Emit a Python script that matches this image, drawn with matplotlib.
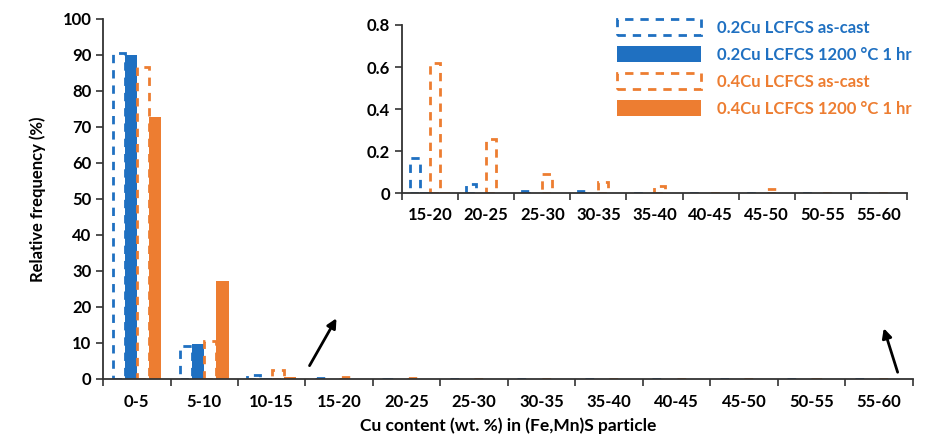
import numpy as np
import matplotlib.pyplot as plt
from matplotlib.ticker import FixedLocator, NullFormatter

plt.rcParams['font.family'] = ['Lato', 'DejaVu Sans']
plt.rcParams['font.weight'] = 'bold'

# size ranges of Cu content (wt. %)
ranges = ['0-5', '5-10', '10-15', '15-20', '20-25', '25-30',
          '30-35', '35-40', '40-45', '45-50', '50-55', '55-60']

# relative frequency (%)
cu02_cast = [90.4, 9.0, 1.1, 0.165, 0.043, 0.01, 0.01, 0, 0, 0, 0, 0]
cu02_ht = [89.9, 9.8, 0.35, 0.005, 0.002, 0, 0, 0, 0, 0, 0, 0]
cu04_cast = [86.5, 10.5, 2.6, 0.62, 0.257, 0.09, 0.055, 0.035, 0, 0.02, 0, 0]
cu04_ht = [72.6, 27.1, 0.6, 0.004, 0.002, 0, 0, 0, 0, 0, 0, 0]

labels = ['0.2Cu LCFCS as-cast', '0.2Cu LCFCS 1200 \u00b0C 1 hr',
          '0.4Cu LCFCS as-cast', '0.4Cu LCFCS 1200 \u00b0C 1 hr']

blue = '#1f70c1'
orange = '#ed7d31'
axcol = '#333333'


def draw_bars(ax, idx, series, pad):
    w = 0.18
    x = np.arange(len(idx))
    offs = [-1.5 * w, -0.5 * w, 0.5 * w, 1.5 * w]
    cols = [blue, blue, orange, orange]
    handles = []
    for k, s in enumerate(series):
        vals = [s[i] for i in idx]
        if k % 2 == 0:
            b = ax.bar(x + offs[k], vals, w, fill=False, edgecolor=cols[k],
                       linestyle=(0, (3, 2.5)), linewidth=2)
        else:
            b = ax.bar(x + offs[k], vals, w, color=cols[k], linewidth=0)
        handles.append(b)
    n = len(idx)
    ax.set_xlim(-0.5, n - 0.5)
    ax.set_xticks(x)
    ax.set_xticklabels([ranges[i] for i in idx])
    ax.xaxis.set_minor_locator(FixedLocator(np.arange(-0.5, n, 1.0)))
    ax.xaxis.set_minor_formatter(NullFormatter())
    ax.tick_params(axis='x', which='major', length=0, pad=pad, labelsize=12)
    ax.tick_params(axis='x', which='minor', length=5, width=1.2, color=axcol)
    ax.tick_params(axis='y', length=5, width=1.2, color=axcol, labelsize=12)
    for sp in ['top', 'right']:
        ax.spines[sp].set_visible(False)
    for sp in ['left', 'bottom']:
        ax.spines[sp].set_color(axcol)
        ax.spines[sp].set_linewidth(1.3)
    return handles


fig = plt.figure(figsize=(9.37, 4.38), dpi=100)
ax = fig.add_axes([0.110, 0.135, 0.864, 0.822])
series = [cu02_cast, cu02_ht, cu04_cast, cu04_ht]
handles = draw_bars(ax, list(range(12)), series, 11)
ax.set_ylim(0, 100)
ax.set_yticks(np.arange(0, 101, 10))
ax.set_ylabel('Relative frequency (%)', fontsize=12, fontweight='bold', labelpad=12)
ax.set_xlabel('Cu content (wt. %) in (Fe,Mn)S particle', fontsize=12.5,
              fontweight='bold', labelpad=5)

ins = fig.add_axes([0.429, 0.559, 0.539, 0.384])
ins.set_facecolor('none')
draw_bars(ins, list(range(3, 12)), series, 10)
ins.set_ylim(0, 0.8)
ins.set_yticks([0, 0.2, 0.4, 0.6, 0.8])
ins.set_yticklabels(['0', '0.2', '0.4', '0.6', '0.8'])

leg = fig.legend(handles, labels, loc='upper left', bbox_to_anchor=(0.643, 0.99),
                 frameon=False, handlelength=5.0, handleheight=1.1,
                 labelspacing=0.62, handletextpad=1.0, fontsize=12,
                 labelcolor=[blue, blue, orange, orange])

arrow = dict(arrowstyle='-|>', color='black', lw=2, mutation_scale=14)
ax.annotate('', xy=(2.98, 17.5), xytext=(2.54, 3.0), arrowprops=arrow)
ax.annotate('', xy=(11.06, 14.8), xytext=(11.29, 1.1), arrowprops=arrow)

fig.savefig('out.png', dpi=100)
